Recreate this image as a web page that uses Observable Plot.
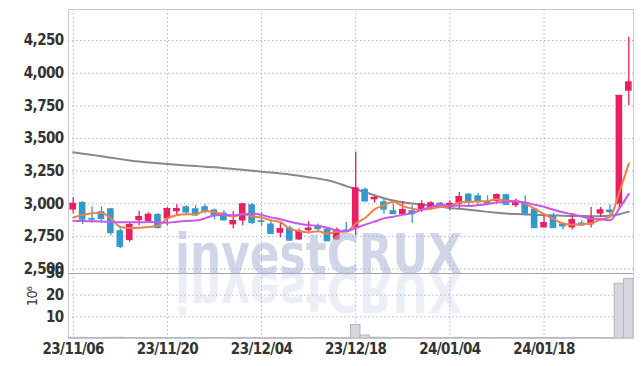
<!DOCTYPE html>
<html><head><meta charset="utf-8">
<script src="https://cdn.jsdelivr.net/npm/d3@7"></script>
<script src="https://cdn.jsdelivr.net/npm/@observablehq/plot@0.6"></script>
<style>
body{margin:0;background:#fff;width:642px;height:366px;overflow:hidden;position:relative;}
#price,#vol,#wm{position:absolute;left:0;}
#price{top:0px} #vol{top:263px} #wm{top:0px;pointer-events:none}
</style></head><body>
<div id="price"></div><div id="vol"></div>
<svg id="wm" width="642" height="366">
  <text x="175" y="273" font-family="DejaVu Sans" font-weight="bold" font-size="56" textLength="287" lengthAdjust="spacingAndGlyphs" fill="#aab4d4" fill-opacity="0.55">investCRUX</text>
  <text x="175" y="273" transform="translate(0,546) scale(1,-1)" font-family="DejaVu Sans" font-weight="bold" font-size="56" textLength="287" lengthAdjust="spacingAndGlyphs" fill="#aab4d4" fill-opacity="0.22">investCRUX</text>
</svg>
<script>
const dates = ["23/11/06","23/11/07","23/11/08","23/11/09","23/11/10","23/11/13","23/11/14","23/11/15","23/11/16","23/11/17",
"23/11/20","23/11/21","23/11/22","23/11/23","23/11/24","23/11/27","23/11/28","23/11/29","23/11/30","23/12/01",
"23/12/04","23/12/05","23/12/06","23/12/07","23/12/08","23/12/11","23/12/12","23/12/13","23/12/14","23/12/15",
"23/12/18","23/12/19","23/12/20","23/12/21","23/12/22","23/12/26","23/12/27","23/12/28","24/01/02","24/01/03",
"24/01/04","24/01/05","24/01/08","24/01/09","24/01/10","24/01/11","24/01/12","24/01/15","24/01/16","24/01/17",
"24/01/18","24/01/19","24/01/22","24/01/23","24/01/24","24/01/25","24/01/26","24/01/29","24/01/30","24/01/31"];
const open = [2952,3010,2888,2939,2962,2794,2718,2870,2865,2918, 2883,2939,2977,2962,2977,2952,2929,2838,2868,2992, 2870,2845,2774,2815,2723,2794,2832,2807,2723,2799, 2815,3111,3030,3015,2947,2916,2947,2952,2972,3005, 2977,2997,3074,3061,3018,3018,3069,2985,3010,2960, 2815,2909,2845,2815,2853,2838,2921,2952,2997,3862];
const high = [3046,3018,2977,2977,2966,2809,2857,2941,2931,2926, 2972,2992,2985,2985,2992,2960,2947,2941,3005,3002, 2934,2876,2850,2830,2807,2863,2845,2815,2815,2857, 3396,3120,3056,3036,2997,3018,2985,3023,3015,3010, 3023,3086,3079,3079,3061,3074,3074,3036,3061,2967, 2921,2929,2857,2926,2870,2972,2972,2992,3829,4275];
const low = [2924,2840,2850,2850,2756,2657,2705,2832,2857,2809, 2832,2903,2909,2901,2921,2876,2870,2807,2832,2840, 2832,2769,2739,2715,2718,2769,2781,2713,2718,2781, 2756,3015,3005,2921,2926,2909,2850,2934,2965,2965, 2947,2960,2972,2997,2985,2997,2992,2972,2921,2814, 2815,2819,2799,2799,2832,2815,2896,2909,2960,3752];
const close = [3002,2883,2884,2888,2781,2675,2840,2901,2918,2819, 2962,2962,2939,2916,2947,2911,2878,2870,2997,2858, 2866,2774,2807,2723,2789,2812,2812,2718,2799,2794, 3120,3023,3048,2960,2926,2954,2926,2997,3005,2992, 3002,3053,3018,3023,3008,3069,2997,3010,2921,2819, 2853,2819,2832,2876,2838,2891,2952,2941,3829,3931];
const ma5 = [2895,2915,2928,2932,2888,2822,2814,2817,2823,2831, 2888,2912,2920,2920,2945,2935,2918,2904,2921,2903, 2894,2873,2860,2806,2792,2781,2789,2771,2786,2787, 2849,2891,2957,2989,3015,2982,2963,2953,2962,2975, 2984,3010,3014,3018,3021,3034,3023,3021,3001,2963, 2920,2884,2849,2840,2844,2851,2878,2900,3090,3309];
const ma10 = [2870,2868,2866,2864,2861,2859,2858,2859,2860,2859, 2855,2863,2869,2871,2888,2912,2915,2912,2920,2924, 2914,2896,2882,2863,2847,2837,2831,2816,2796,2789, 2815,2840,2864,2888,2901,2915,2927,2955,2975,2995, 2983,2986,2983,2990,2998,3009,3016,3018,3009,2992, 2977,2954,2935,2920,2903,2886,2881,2874,2965,3076];
const maLong = [3394,3384,3374,3364,3353,3342,3332,3323,3316,3310, 3304,3299,3294,3289,3284,3279,3273,3267,3261,3253, 3246,3239,3232,3225,3215,3204,3193,3180,3160,3135, 3112,3088,3065,3043,3025,3011,3002,2994,2985,2977, 2968,2962,2955,2946,2938,2931,2925,2921,2918,2915, 2913,2911,2909,2907,2906,2905,2905,2908,2920,2940];
const volume = [0.3,0.3,0.2,0.2,0.3,0.3,0.2,0.2,0.2,0.2, 0.2,0.2,0.2,0.2,0.2,0.2,0.2,0.2,0.3,0.2, 0.2,0.2,0.2,0.2,0.2,0.2,0.2,0.2,0.2,0.2, 6.2,1.4,0.4,0.3,0.2,0.2,0.2,0.2,0.2,0.2, 0.2,0.3,0.2,0.2,0.2,0.2,0.2,0.2,0.2,0.2, 0.2,0.2,0.2,0.2,0.2,0.2,0.2,0.2,25.3,27.5];
const priceTicks = [2500,2750,3000,3250,3500,3750,4000,4250];
const volTicks = [10,20,30];
const tickDates = dates.filter((d,i)=>i%10===0);

const UP = "#e91e63", DOWN = "#3399cc";
const rows = dates.map((d,i)=>({date:d, open:open[i], high:high[i], low:low[i], close:close[i],
  ma5:ma5[i], ma10:ma10[i], maLong:maLong[i], volume:volume[i], color: close[i] >= open[i] ? UP : DOWN}));

const FONT = "'Liberation Sans Narrow','DejaVu Sans Condensed','DejaVu Sans',sans-serif";
const gridStyle = {stroke:"#aeb4d4", strokeOpacity:1, strokeWidth:1, strokeDasharray:"1.5,2.5"};
const svgStyle = {background:"transparent", overflow:"visible", fontFamily:FONT, fontSize:"15px", color:"#333", letterSpacing:"-0.6px", fontStretch:"condensed"};

const price = Plot.plot({
  width:642, height:273, marginTop:9, marginBottom:0, marginLeft:68, marginRight:9,
  style:svgStyle,
  x:{type:"band", domain:dates, padding:0, round:false, axis:null},
  y:{domain:[2466,4488]},
  color:{type:"identity"},
  marks:[
    Plot.gridY(priceTicks, gridStyle),
    Plot.gridX(tickDates, gridStyle),
    Plot.frame({stroke:"#c8c8d2"}),
    Plot.ruleY([2466], {stroke:"#9ea3b8"}),
    Plot.axisY(priceTicks, {tickSize:0, tickPadding:5, tickFormat:d3.format(","), fontWeight:"bold", fill:"#333", label:null}),
    Plot.line(rows, {x:"date", y:"maLong", stroke:"#888888", strokeWidth:2, curve:"monotone-x"}),
    Plot.ruleX(rows, {x:"date", y1:"low", y2:"high", stroke:"color", strokeWidth:1.3}),
    Plot.barY(rows, {x:"date", y1:"open", y2:"close", fill:"color", insetLeft:1.4, insetRight:1.4}),
    Plot.tickY(rows, {x:"date", y:"close", stroke:"color", strokeWidth:1.5, insetLeft:1.4, insetRight:1.4}),
    Plot.line(rows, {x:"date", y:"ma5", stroke:"#f08046", strokeWidth:2, curve:"monotone-x"}),
    Plot.line(rows, {x:"date", y:"ma10", stroke:"#c858e8", strokeWidth:2, curve:"monotone-x"})
  ]
});
document.getElementById("price").appendChild(price);

const vol = Plot.plot({
  width:642, height:103, marginTop:10, marginBottom:28, marginLeft:68, marginRight:9,
  style:svgStyle,
  x:{type:"band", domain:dates, padding:0, round:false},
  y:{domain:[0,30]},
  marks:[
    Plot.gridY([10,20], gridStyle),
    Plot.gridX(tickDates, gridStyle),
    Plot.barY(rows, {x:"date", y:"volume", fill:"#d6d6de", stroke:"#b4b4c0", strokeWidth:1}),
    Plot.frame({stroke:"#c8c8d2"}),
    Plot.ruleY([30], {stroke:"#9ea3b8"}),
    Plot.axisY(volTicks, {tickSize:0, tickPadding:5, fontWeight:"bold", fill:"#333", label:null}),
    Plot.axisX(tickDates, {tickSize:0, tickPadding:5, fontWeight:"bold", fill:"#333", label:null}),
    Plot.text(["10⁶"], {text:d=>d, frameAnchor:"left", dx:-36, rotate:-90, fontSize:14, fill:"#333", fontFamily:"DejaVu Sans"})
  ]
});
document.getElementById("vol").appendChild(vol);
</script>
</body></html>
